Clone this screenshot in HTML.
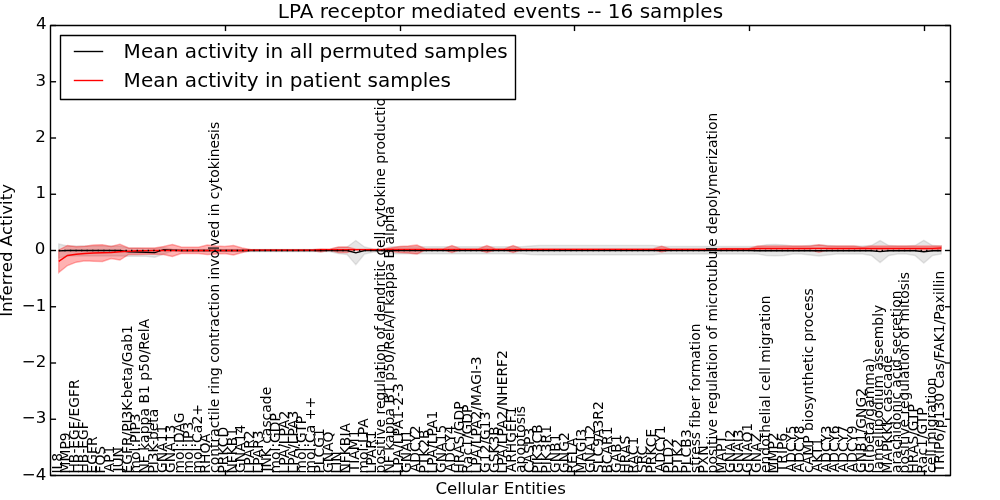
<!DOCTYPE html>
<html><head><meta charset="utf-8"><title>LPA receptor mediated events</title>
<style>html,body{margin:0;padding:0;background:#fff;width:1000px;height:500px;overflow:hidden}
svg{display:block;will-change:transform}
text{font-family:"DejaVu Sans","Liberation Sans",sans-serif}</style></head>
<body>
<svg width="1000" height="500" viewBox="0 0 1000 500">
<rect x="0" y="0" width="1000" height="500" fill="#fff"/>
<polygon points="58.74,244.00 67.48,246.00 76.21,246.00 84.95,246.00 93.69,246.00 102.43,246.00 111.17,246.00 119.90,246.00 128.64,248.00 137.38,248.30 146.12,248.50 154.85,248.50 163.59,247.50 172.33,249.10 181.07,249.50 189.81,249.50 198.54,249.50 207.28,249.50 216.02,249.50 224.76,249.50 233.50,249.50 242.23,249.50 250.97,249.50 259.71,249.50 268.45,249.50 277.18,249.50 285.92,249.50 294.66,249.50 303.40,249.50 312.14,249.50 320.87,249.50 329.61,249.50 338.35,247.50 347.09,247.00 355.83,240.50 364.56,247.00 373.30,249.00 382.04,249.50 390.78,246.70 399.51,246.70 408.25,246.70 416.99,246.70 425.73,246.70 434.47,246.70 443.20,246.70 451.94,246.70 460.68,246.70 469.42,246.70 478.16,246.70 486.89,246.70 495.63,246.70 504.37,246.70 513.11,246.70 521.84,246.70 530.58,246.00 539.32,245.40 548.06,245.40 556.80,245.40 565.53,245.40 574.27,245.40 583.01,245.40 591.75,245.40 600.49,245.40 609.22,245.40 617.96,245.40 626.70,245.40 635.44,245.40 644.17,245.40 652.91,245.40 661.65,246.50 670.39,246.50 679.13,246.50 687.86,246.50 696.60,246.50 705.34,246.50 714.08,246.50 722.82,246.50 731.55,246.50 740.29,246.50 749.03,246.50 757.77,246.50 766.50,244.80 775.24,244.50 783.98,245.00 792.72,246.00 801.46,246.00 810.19,245.50 818.93,245.00 827.67,245.50 836.41,246.00 845.15,246.00 853.88,246.00 862.62,246.00 871.36,245.50 880.10,240.60 888.83,245.50 897.57,246.00 906.31,246.00 915.05,245.50 923.79,240.30 932.52,245.50 941.26,246.00 941.26,254.00 932.52,255.50 923.79,263.00 915.05,255.50 906.31,254.00 897.57,254.00 888.83,255.50 880.10,262.60 871.36,255.50 862.62,254.00 853.88,254.00 845.15,254.00 836.41,254.00 827.67,255.00 818.93,256.00 810.19,255.00 801.46,254.00 792.72,254.00 783.98,255.50 775.24,255.80 766.50,255.60 757.77,254.00 749.03,254.00 740.29,254.00 731.55,254.00 722.82,254.00 714.08,254.00 705.34,254.00 696.60,254.00 687.86,254.00 679.13,254.00 670.39,254.00 661.65,254.00 652.91,254.80 644.17,254.80 635.44,254.80 626.70,254.80 617.96,254.80 609.22,254.80 600.49,254.80 591.75,254.80 583.01,254.80 574.27,254.80 565.53,254.80 556.80,254.80 548.06,254.80 539.32,254.80 530.58,254.50 521.84,253.80 513.11,253.80 504.37,253.80 495.63,253.80 486.89,253.80 478.16,253.80 469.42,253.80 460.68,253.80 451.94,253.80 443.20,253.80 434.47,253.80 425.73,253.80 416.99,253.80 408.25,253.80 399.51,253.80 390.78,253.80 382.04,251.50 373.30,252.00 364.56,254.00 355.83,264.60 347.09,254.50 338.35,253.50 329.61,251.50 320.87,251.50 312.14,251.50 303.40,251.50 294.66,251.50 285.92,251.50 277.18,251.50 268.45,251.50 259.71,251.50 250.97,251.50 242.23,251.50 233.50,251.50 224.76,251.50 216.02,251.50 207.28,251.50 198.54,251.50 189.81,251.50 181.07,251.50 172.33,251.10 163.59,254.00 154.85,257.20 146.12,256.30 137.38,256.20 128.64,256.20 119.90,256.00 111.17,256.00 102.43,256.00 93.69,256.00 84.95,256.00 76.21,256.00 67.48,256.00 58.74,258.00" fill="#808080" fill-opacity="0.2" stroke="#808080" stroke-opacity="0.2" stroke-width="1.39" stroke-linejoin="miter"/>
<polygon points="58.74,250.00 67.48,245.50 76.21,246.80 84.95,246.20 93.69,245.00 102.43,244.80 111.17,246.50 119.90,244.20 128.64,248.00 137.38,248.00 146.12,248.00 154.85,248.00 163.59,246.50 172.33,244.50 181.07,247.00 189.81,247.20 198.54,247.20 207.28,245.00 216.02,246.00 224.76,246.50 233.50,245.50 242.23,248.00 250.97,249.60 259.71,249.60 268.45,249.60 277.18,249.60 285.92,249.60 294.66,249.60 303.40,249.60 312.14,249.60 320.87,249.00 329.61,249.10 338.35,247.00 347.09,247.00 355.83,249.10 364.56,249.10 373.30,249.10 382.04,249.10 390.78,248.00 399.51,246.50 408.25,246.00 416.99,245.00 425.73,248.90 434.47,248.90 443.20,248.90 451.94,245.50 460.68,248.90 469.42,248.90 478.16,248.90 486.89,245.50 495.63,248.90 504.37,248.90 513.11,245.50 521.84,248.90 530.58,248.90 539.32,248.90 548.06,248.90 556.80,248.90 565.53,248.90 574.27,248.90 583.01,248.90 591.75,248.90 600.49,248.90 609.22,248.90 617.96,248.90 626.70,248.90 635.44,248.90 644.17,248.90 652.91,248.90 661.65,246.30 670.39,248.90 679.13,248.90 687.86,248.90 696.60,248.90 705.34,248.90 714.08,248.90 722.82,248.50 731.55,248.50 740.29,248.50 749.03,248.50 757.77,246.00 766.50,246.00 775.24,246.00 783.98,246.00 792.72,246.00 801.46,246.00 810.19,246.00 818.93,244.80 827.67,246.00 836.41,246.00 845.15,246.00 853.88,246.00 862.62,247.20 871.36,246.00 880.10,246.00 888.83,246.00 897.57,246.00 906.31,246.00 915.05,246.00 923.79,246.00 932.52,246.00 941.26,246.00 941.26,250.00 932.52,250.00 923.79,250.00 915.05,250.00 906.31,250.00 897.57,250.00 888.83,250.00 880.10,250.00 871.36,250.00 862.62,250.00 853.88,250.00 845.15,250.00 836.41,250.00 827.67,250.00 818.93,252.30 810.19,250.00 801.46,250.00 792.72,250.00 783.98,250.00 775.24,250.00 766.50,250.00 757.77,250.00 749.03,249.50 740.29,249.50 731.55,249.50 722.82,249.50 714.08,249.90 705.34,249.90 696.60,249.90 687.86,249.90 679.13,249.90 670.39,249.90 661.65,252.00 652.91,249.90 644.17,249.90 635.44,249.90 626.70,249.90 617.96,249.90 609.22,249.90 600.49,249.90 591.75,249.90 583.01,249.90 574.27,249.90 565.53,249.90 556.80,249.90 548.06,249.90 539.32,249.90 530.58,249.90 521.84,249.90 513.11,252.50 504.37,249.90 495.63,249.90 486.89,252.50 478.16,249.90 469.42,249.90 460.68,249.90 451.94,252.50 443.20,249.90 434.47,249.90 425.73,249.90 416.99,254.00 408.25,253.00 399.51,252.50 390.78,251.50 382.04,250.10 373.30,250.10 364.56,250.10 355.83,250.10 347.09,252.50 338.35,252.50 329.61,250.10 320.87,252.00 312.14,250.60 303.40,250.60 294.66,250.60 285.92,250.60 277.18,250.60 268.45,250.60 259.71,250.60 250.97,250.60 242.23,252.50 233.50,255.00 224.76,253.50 216.02,254.00 207.28,254.50 198.54,253.50 189.81,253.50 181.07,253.50 172.33,256.50 163.59,254.50 154.85,254.30 146.12,254.30 137.38,254.50 128.64,254.50 119.90,260.00 111.17,258.50 102.43,261.50 93.69,261.20 84.95,260.80 76.21,262.20 67.48,265.50 58.74,272.50" fill="#ff0000" fill-opacity="0.3" stroke="#ff0000" stroke-opacity="0.3" stroke-width="1.39"/>
<polyline points="58.74,250.90 67.48,250.50 76.21,250.50 84.95,250.50 93.69,250.50 102.43,250.50 111.17,250.50 119.90,250.50 128.64,251.80 137.38,252.00 146.12,252.20 154.85,252.60 163.59,249.60 172.33,250.10 181.07,250.50 189.81,250.50 198.54,250.50 207.28,250.50 216.02,250.50 224.76,250.50 233.50,250.50 242.23,250.50 250.97,250.50 259.71,250.50 268.45,250.50 277.18,250.50 285.92,250.50 294.66,250.50 303.40,250.50 312.14,250.50 320.87,250.50 329.61,250.50 338.35,250.50 347.09,250.50 355.83,252.90 364.56,250.50 373.30,250.50 382.04,250.50 390.78,250.50 399.51,250.50 408.25,250.50 416.99,250.50 425.73,250.50 434.47,250.50 443.20,250.50 451.94,250.50 460.68,250.50 469.42,250.50 478.16,250.50 486.89,250.50 495.63,250.50 504.37,250.50 513.11,250.50 521.84,250.50 530.58,250.50 539.32,250.50 548.06,250.50 556.80,250.50 565.53,250.50 574.27,250.50 583.01,250.50 591.75,250.50 600.49,250.50 609.22,250.50 617.96,250.50 626.70,250.50 635.44,250.50 644.17,250.50 652.91,250.50 661.65,250.50 670.39,250.50 679.13,250.50 687.86,250.50 696.60,250.50 705.34,250.50 714.08,250.50 722.82,250.50 731.55,250.50 740.29,250.50 749.03,250.50 757.77,250.70 766.50,250.70 775.24,250.70 783.98,250.70 792.72,250.70 801.46,250.70 810.19,250.70 818.93,250.70 827.67,250.70 836.41,250.70 845.15,250.70 853.88,250.70 862.62,250.70 871.36,250.70 880.10,251.60 888.83,250.70 897.57,250.70 906.31,250.70 915.05,250.70 923.79,251.80 932.52,250.70 941.26,250.70" fill="none" stroke="#000" stroke-width="1.39"/>
<polyline points="58.74,261.30 67.48,255.50 76.21,254.30 84.95,253.50 93.69,253.00 102.43,252.80 111.17,252.50 119.90,251.80 128.64,251.20 137.38,250.80 146.12,250.60 154.85,250.50 163.59,250.50 172.33,250.50 181.07,250.50 189.81,250.50 198.54,250.50 207.28,250.50 216.02,250.50 224.76,250.50 233.50,250.50 242.23,250.50 250.97,250.10 259.71,250.10 268.45,250.10 277.18,250.10 285.92,250.10 294.66,250.10 303.40,250.10 312.14,250.10 320.87,249.60 329.61,249.60 338.35,249.60 347.09,249.60 355.83,249.60 364.56,249.60 373.30,249.60 382.04,249.60 390.78,249.40 399.51,249.40 408.25,249.40 416.99,249.40 425.73,249.40 434.47,249.40 443.20,249.40 451.94,249.40 460.68,249.40 469.42,249.40 478.16,249.40 486.89,249.40 495.63,249.40 504.37,249.40 513.11,249.40 521.84,249.40 530.58,249.40 539.32,249.40 548.06,249.40 556.80,249.40 565.53,249.40 574.27,249.40 583.01,249.40 591.75,249.40 600.49,249.40 609.22,249.40 617.96,249.40 626.70,249.40 635.44,249.40 644.17,249.40 652.91,249.40 661.65,249.40 670.39,249.40 679.13,249.40 687.86,249.40 696.60,249.40 705.34,249.40 714.08,249.40 722.82,249.00 731.55,249.00 740.29,249.00 749.03,249.00 757.77,248.40 766.50,248.40 775.24,248.40 783.98,248.40 792.72,248.40 801.46,248.40 810.19,248.40 818.93,248.40 827.67,248.40 836.41,248.40 845.15,248.40 853.88,248.40 862.62,248.40 871.36,248.40 880.10,248.40 888.83,248.40 897.57,248.40 906.31,248.40 915.05,248.40 923.79,248.40 932.52,248.40 941.26,248.00" fill="none" stroke="#f00" stroke-width="1.39"/>
<line x1="58.74" y1="250.5" x2="941.26" y2="250.5" stroke="#000" stroke-width="1.39" stroke-dasharray="1.39 4.17"/>
<g font-family="DejaVu Sans" font-size="13.889" fill="#000">
<text transform="translate(61.74,473.57) rotate(-90)" x="0 4 11.75">IL8</text>
<text transform="translate(70.48,473.57) rotate(-90)" x="0 12 24 32.375">MMP9</text>
<text transform="translate(79.21,473.57) rotate(-90)" x="0 10.375 20 24.875 33.625 44.375 52.375 57 65.75 76.5 84.5">HB-EGF/EGFR</text>
<text transform="translate(87.95,473.57) rotate(-90)" x="0 10.375 20 24.875 33.625 44.375">HB-EGF</text>
<text transform="translate(96.69,473.57) rotate(-90)" x="0 8.75 19.5 27.5">EGFR</text>
<text transform="translate(105.43,473.57) rotate(-90)" x="0 8 18.875">FOS</text>
<text transform="translate(114.17,472.31) rotate(-90)" x="0 9.5 17.875">AP1</text>
<text transform="translate(122.90,471.51) rotate(-90)" x="0 4 14.125">JUN</text>
<text transform="translate(131.64,473.57) rotate(-90)" x="0 8.75 19.5 27.5 37.125 41.75 50.125 54.125 62.875 70.375 75.25 84.125 92.625 98.125 106.75 111.375 122.125 130.75 139.625">EGFR/PI3K-beta/Gab1</text>
<text transform="translate(140.38,473.45) rotate(-90)" x="0 13.5 22 25.875 30.5 38.875 42.875 51.25">mol:PIP3</text>
<text transform="translate(149.12,473.57) rotate(-90)" x="0 10.375 18.375 22.75 30.625 39.25 48.125 57 65.625 70 79.625 88.5 92.875 101.75 110.5 119.25 123.875 132.875 141.375 145.25">NF kappa B1 p50/RelA</text>
<text transform="translate(157.85,473.57) rotate(-90)" x="0 8.375 12.375 21.125 28.625 33.5 42.375 50.875 56.375">PI3K-beta</text>
<text transform="translate(166.59,472.95) rotate(-90)" x="0 10.75 21.125 30.625 39.5">GNA11</text>
<text transform="translate(175.33,472.95) rotate(-90)" x="0 10.75 21.125 30.625 39.5">GNA13</text>
<text transform="translate(184.07,473.45) rotate(-90)" x="0 13.5 22 25.875 30.5 41 50.25">mol:DAG</text>
<text transform="translate(192.81,473.45) rotate(-90)" x="0 13.5 22 25.875 30.5 34.5 42.875">mol:IP3</text>
<text transform="translate(201.54,473.45) rotate(-90)" x="0 13.5 22 25.875 30.5 40.25 48.875 57.625">mol:Ca2+</text>
<text transform="translate(210.28,473.57) rotate(-90)" x="0 9.625 20 30.625">RHOA</text>
<text transform="translate(219.02,472.95) rotate(-90)" x="0 7.625 16.125 24.875 30.375 36.125 44.75 52.375 57.875 61.75 65.625 74.125 78.5 84.25 88.125 96.875 105.75 110.125 117.75 126.25 135 140.5 146.25 154.875 162.5 168 171.875 180.375 189.125 193.5 197.375 206.125 214.375 222.875 226.75 235 243.5 252.375 256.75 260.625 269.375 273.75 281.375 289.625 295.125 303.625 311.75 315.625 324.375 332.875 340 343.875">contractile ring contraction involved in cytokinesis</text>
<text transform="translate(227.76,473.57) rotate(-90)" x="0 8.375 18 26.25 36">PRKCD</text>
<text transform="translate(236.50,473.57) rotate(-90)" x="0 10.375 18.375 27.375 37">NFKB1</text>
<text transform="translate(245.23,472.95) rotate(-90)" x="0 10.75 21.125 30.625 39.5">GNA14</text>
<text transform="translate(253.97,473.57) rotate(-90)" x="0 7.75 15.25 24.75 34.375">LPAR2</text>
<text transform="translate(262.71,473.57) rotate(-90)" x="0 7.75 15.25 24.75 34.375">LPAR3</text>
<text transform="translate(271.45,471.51) rotate(-90)" x="0 4 14.375 23.375 27.75 35.375 44 51.125 58.75 67.375 76.25">JNK cascade</text>
<text transform="translate(280.18,473.45) rotate(-90)" x="0 13.5 22 25.875 30.5 41.25 52">mol:GDP</text>
<text transform="translate(288.92,473.57) rotate(-90)" x="0 7.75 15.25 24.75 29.375 37.125 44.625 54.125">LPA/LPA2</text>
<text transform="translate(297.66,473.57) rotate(-90)" x="0 7.75 15.25 24.75 29.375 37.125 44.625 54.125">LPA/LPA3</text>
<text transform="translate(306.40,473.45) rotate(-90)" x="0 13.5 22 25.875 30.5 40.75 49.25">mol:GTP</text>
<text transform="translate(315.14,473.45) rotate(-90)" x="0 13.5 22 25.875 30.5 40.25 48.875 53.25 64.875">mol:Ca ++</text>
<text transform="translate(323.87,473.57) rotate(-90)" x="0 8.375 16.125 25.875 36.625">PLCG1</text>
<text transform="translate(332.61,472.95) rotate(-90)" x="0 10.75 21.125 30.375">GNAQ</text>
<text transform="translate(341.35,473.57) rotate(-90)" x="0 7.75 11.75">LIN</text>
<text transform="translate(350.09,473.57) rotate(-90)" x="0 10.375 18.375 27.375 37 41">NFKBIA</text>
<text transform="translate(358.83,472.20) rotate(-90)" x="0 8.5 12.5 22 34">TIAM1</text>
<text transform="translate(367.56,473.45) rotate(-90)" x="0 13.5 22 25.875 30.5 38.25 45.75">mol:LPA</text>
<text transform="translate(376.30,473.57) rotate(-90)" x="0 7.75 15.25 24.75 34.375">LPAR1</text>
<text transform="translate(385.04,473.45) rotate(-90)" x="0 8.875 17.375 24.5 28.375 33.875 37.75 46 54.5 58.875 64.375 72.875 81.75 90.5 94.375 103 108.5 112.375 120.875 129.625 134 142.5 147.5 151.875 160.75 169.25 178 186.875 192.625 196.5 202 205.875 213.5 217.875 225.5 234 237.875 241.75 246.125 253.75 262 267.5 276 284.125 288 296.75 305.25 309.625 318.5 324 332.5 341.375 350.125 357.75 363.25 367.125 375.625">positive regulation of dendritic cell cytokine production</text>
<text transform="translate(393.78,473.57) rotate(-90)" x="0 10.375 18.375 22.75 30.625 39.25 48.125 57 65.625 70 79.625 88.5 92.875 101.75 110.5 119.25 123.875 132.875 141.375 145.25 154.75 159.375 163.375 167.75 175.625 184.25 193.125 202 210.625 215 224.625 229 237.625 241.5 250.375 259.125">NF kappa B1 p50/RelA/I kappa B alpha</text>
<text transform="translate(402.51,473.57) rotate(-90)" x="0 7.75 15.25 24.75 29.375 37.125 44.625 54.125 63 67.875 76.625 81.5">LPA/LPA1-2-3</text>
<text transform="translate(411.25,472.95) rotate(-90)" x="0 10.75 21.125 30.625 34.625">GNAI1</text>
<text transform="translate(419.99,472.31) rotate(-90)" x="0 9.5 20.25 29.75 38.125">ADCY2</text>
<text transform="translate(428.73,473.57) rotate(-90)" x="0 8.375 16.875 25.875 34.625">PTK2B</text>
<text transform="translate(437.47,473.57) rotate(-90)" x="0 7.75 15.25 24.75 29.375 37.125 44.625 54.125">LPA/LPA1</text>
<text transform="translate(446.20,472.95) rotate(-90)" x="0 10.75 21.125 30.625 39.5">GNA15</text>
<text transform="translate(454.94,472.31) rotate(-90)" x="0 9.5 20.25 29.75 38.125">ADCY4</text>
<text transform="translate(463.68,473.57) rotate(-90)" x="0 10.375 19.5 29 37.75 42.375 53.125 63.875">HRAS/GDP</text>
<text transform="translate(472.42,473.57) rotate(-90)" x="0 9.375 18 25.625 34.5 39.125 49.875 60.625">Rac1/GDP</text>
<text transform="translate(481.16,473.57) rotate(-90)" x="0 7.75 15.25 24.75 29.375 37.125 44.625 54.125 62.875 67.5 79.5 88.75 99.5 103.5 108.375">LPA/LPA2/MAGI-3</text>
<text transform="translate(489.89,472.95) rotate(-90)" x="0 10.75 19.625 28.375 33 43.75 52.625">G12/G13</text>
<text transform="translate(498.63,472.95) rotate(-90)" x="0 10.75 19.5 28.5 37.25">GSK3B</text>
<text transform="translate(507.37,473.57) rotate(-90)" x="0 7.75 15.25 24.75 29.375 37.125 44.625 54.125 62.875 67.5 77.875 88.25 97 106.625 114.625">LPA/LPA2/NHERF2</text>
<text transform="translate(516.11,472.31) rotate(-90)" x="0 9.5 19.125 29.5 40.25 49 57">ARHGEF1</text>
<text transform="translate(524.84,473.07) rotate(-90)" x="0 8.625 17.5 26 34.875 40.375 48.875 56 59.875">apoptosis</text>
<text transform="translate(533.58,472.95) rotate(-90)" x="0 9.75 19.25 28 36.375">CASP3</text>
<text transform="translate(542.32,473.57) rotate(-90)" x="0 8.375 12.375 21.375 30.125 39.875">PIK3CB</text>
<text transform="translate(551.06,473.57) rotate(-90)" x="0 8.375 12.375 21.375 30.125 39.75">PIK3R1</text>
<text transform="translate(559.80,472.95) rotate(-90)" x="0 10.75 21.125 30.75">GNB1</text>
<text transform="translate(568.53,472.95) rotate(-90)" x="0 10.75 21.125 31.875">GNG2</text>
<text transform="translate(577.27,473.57) rotate(-90)" x="0 9.625 18.375 26.5">RELA</text>
<text transform="translate(586.01,473.57) rotate(-90)" x="0 12 21.25 32 36">MAGI3</text>
<text transform="translate(594.75,472.95) rotate(-90)" x="0 10.75 21.125 30.625 39.5">GNA12</text>
<text transform="translate(603.49,473.07) rotate(-90)" x="0 8.75 16.5 26.25 35.125 44.625 53.375 63">SLC9A3R2</text>
<text transform="translate(612.22,473.57) rotate(-90)" x="0 9.375 19.125 28.625 38.25">BCAR1</text>
<text transform="translate(620.96,472.95) rotate(-90)" x="0 10.75 20.25 29.875">GAB1</text>
<text transform="translate(629.70,473.57) rotate(-90)" x="0 10.375 19.5 29">HRAS</text>
<text transform="translate(638.44,473.57) rotate(-90)" x="0 9.125 18.375 28.125">RAC1</text>
<text transform="translate(647.17,473.07) rotate(-90)" x="0 8.75 17.625">SRC</text>
<text transform="translate(655.91,473.57) rotate(-90)" x="0 8.375 18 26.25 36">PRKCE</text>
<text transform="translate(664.65,472.31) rotate(-90)" x="0 9.5 20.25 29.75 38.125">ADCY1</text>
<text transform="translate(673.39,473.57) rotate(-90)" x="0 8.375 16.125 26.875">PLD2</text>
<text transform="translate(682.13,473.57) rotate(-90)" x="0 8.375 16.875 25.875">PTK2</text>
<text transform="translate(690.86,473.57) rotate(-90)" x="0 8.375 16.125 25.875 35.5">PLCB3</text>
<text transform="translate(699.60,472.90) rotate(-90)" x="0 7.125 12.625 18.125 26.625 33.75 40.875 45.25 50.25 54.125 63 71.5 77.25 81.625 86.625 95.125 100.625 114.125 122.75 128.25 132.125 140.625">stress fiber formation</text>
<text transform="translate(708.34,473.57) rotate(-90)" x="0 8.375 17.875">PXN</text>
<text transform="translate(717.08,473.45) rotate(-90)" x="0 8.875 17.375 24.5 28.375 33.875 37.75 46 54.5 58.875 64.375 72.875 81.75 90.5 94.375 103 108.5 112.375 120.875 129.625 134 142.5 147.5 151.875 165.375 169.25 176.875 182.375 190.875 196.375 205.125 214 222.75 226.625 235.125 239.5 248.375 256.875 265.75 274.25 278.125 286.375 299.875 308.375 314.125 318 325.375 334 339.5 343.375 351.875">positive regulation of microtubule depolymerization</text>
<text transform="translate(725.82,473.57) rotate(-90)" x="0 12 21.5 29.875">MAPT</text>
<text transform="translate(734.55,472.95) rotate(-90)" x="0 10.75 21.125 30.625 34.625">GNAI2</text>
<text transform="translate(743.29,472.95) rotate(-90)" x="0 10.75 21.125 30.625 34.625">GNAI3</text>
<text transform="translate(752.03,472.95) rotate(-90)" x="0 10.75 21.125 30.375 41.25">GNAO1</text>
<text transform="translate(760.77,472.95) rotate(-90)" x="0 10.75 21.125 30.625">GNAZ</text>
<text transform="translate(769.50,472.95) rotate(-90)" x="0 8.5 17.25 26.125 34.625 40.125 48.875 57.375 61.25 65.125 73.75 77.625 82 89.625 98.125 102 105.875 110.25 123.75 127.625 136.5 142.25 150.875 156.375 160.25 168.75">endothelial cell migration</text>
<text transform="translate(778.24,473.57) rotate(-90)" x="0 12 24 32.375">MMP2</text>
<text transform="translate(786.98,472.20) rotate(-90)" x="0 8.5 18.125 22.125 30.5">TRIP6</text>
<text transform="translate(795.72,472.31) rotate(-90)" x="0 9.5 20.25 29.75 38.125">ADCY5</text>
<text transform="translate(804.46,472.31) rotate(-90)" x="0 9.5 20.25 29.75 38.125">ADCY8</text>
<text transform="translate(813.19,472.95) rotate(-90)" x="0 7.625 17.125 29.125 37.5 41.875 50.75 54.625 63.125 70.25 78.5 87.25 92.75 101.5 110 115.5 119.375 127 131.375 140.25 145.75 154.25 161.875 170.375 177.5">cAMP biosynthetic process</text>
<text transform="translate(821.93,472.31) rotate(-90)" x="0 9.5 17.375 25.875">AKT1</text>
<text transform="translate(830.67,472.31) rotate(-90)" x="0 9.5 20.25 29.75 38.125">ADCY3</text>
<text transform="translate(839.41,472.31) rotate(-90)" x="0 9.5 20.25 29.75 38.125">ADCY6</text>
<text transform="translate(848.15,472.31) rotate(-90)" x="0 9.5 20.25 29.75 38.125">ADCY7</text>
<text transform="translate(856.88,472.31) rotate(-90)" x="0 9.5 20.25 29.75 38.125">ADCY9</text>
<text transform="translate(865.62,472.95) rotate(-90)" x="0 10.75 21.125 30.75 39.625 44.25 55 65.375 76.125">GNB1/GNG2</text>
<text transform="translate(874.36,472.95) rotate(-90)" x="0 10.75 14.625 20.125 29 37.5 43 51.625 56.25 65.125 73.75 87.25 100.75 109.375">Gi(beta/gamma)</text>
<text transform="translate(883.10,473.45) rotate(-90)" x="0 3.875 12.5 26 34.5 38.375 42.25 46.125 55 63.5 72.375 76.25 85 98.5 102.875 111.5 118.625 125.75 134.25 147.75 156.625 160.5">lamellipodium assembly</text>
<text transform="translate(891.83,473.57) rotate(-90)" x="0 12 21.5 29.875 38.875 47.875 56.875 61.25 68.875 77.5 84.625 92.25 100.875 109.75">MAPKKK cascade</text>
<text transform="translate(900.57,473.07) rotate(-90)" x="0 8.625 14.375 23 30.625 39.375 43.25 52.125 60.625 69.375 73.25 80.875 85.25 93.875 101.5 105.375 114.25 118.625 125.75 134.25 141.875 147.375 155.875 161.375 165.25 173.75">arachidonic acid secretion</text>
<text transform="translate(909.31,473.45) rotate(-90)" x="0 8.875 17.375 24.5 28.375 33.875 37.75 46 54.5 58.875 64.375 72.875 81.75 90.5 94.375 103 108.5 112.375 120.875 129.625 134 142.5 147.5 151.875 165.375 169.25 174.75 183.25 190.375 194.25">positive regulation of mitosis</text>
<text transform="translate(918.05,473.57) rotate(-90)" x="0 10.375 19.5 29 37.75 42.375 52.625 61.125">HRAS/GTP</text>
<text transform="translate(926.79,473.57) rotate(-90)" x="0 9.375 18 25.625 34.5 39.125 49.375 57.875">Rac1/GTP</text>
<text transform="translate(935.52,472.95) rotate(-90)" x="0 7.625 16.125 20 23.875 28.25 41.75 45.625 54.5 60.25 68.875 74.375 78.25 86.75">cell migration</text>
<text transform="translate(944.26,472.20) rotate(-90)" x="0 8.5 18.125 22.125 30.5 39.375 44 52.875 61.75 70.5 79.25 83.625 93.375 102 109.125 113.75 120.5 130 139 147.875 152.5 160.25 168.875 177.125 181 184.875 188.75 192.625">TRIP6/p130 Cas/FAK1/Paxillin</text>
</g>
<g stroke="#000" stroke-width="1.39" fill="none" stroke-linejoin="round">
<rect x="50.5" y="25.5" width="900" height="450"/>
<line x1="50.5" y1="475.5" x2="56.06" y2="475.5"/>
<line x1="950.5" y1="475.5" x2="944.94" y2="475.5"/>
<line x1="50.5" y1="419.25" x2="56.06" y2="419.25"/>
<line x1="950.5" y1="419.25" x2="944.94" y2="419.25"/>
<line x1="50.5" y1="363.0" x2="56.06" y2="363.0"/>
<line x1="950.5" y1="363.0" x2="944.94" y2="363.0"/>
<line x1="50.5" y1="306.75" x2="56.06" y2="306.75"/>
<line x1="950.5" y1="306.75" x2="944.94" y2="306.75"/>
<line x1="50.5" y1="250.5" x2="56.06" y2="250.5"/>
<line x1="950.5" y1="250.5" x2="944.94" y2="250.5"/>
<line x1="50.5" y1="194.25" x2="56.06" y2="194.25"/>
<line x1="950.5" y1="194.25" x2="944.94" y2="194.25"/>
<line x1="50.5" y1="138.0" x2="56.06" y2="138.0"/>
<line x1="950.5" y1="138.0" x2="944.94" y2="138.0"/>
<line x1="50.5" y1="81.75" x2="56.06" y2="81.75"/>
<line x1="950.5" y1="81.75" x2="944.94" y2="81.75"/>
<line x1="50.5" y1="25.5" x2="56.06" y2="25.5"/>
<line x1="950.5" y1="25.5" x2="944.94" y2="25.5"/>
<line x1="225.5" y1="25.5" x2="225.5" y2="31.06"/>
<line x1="225.5" y1="475.5" x2="225.5" y2="469.94"/>
<line x1="400.5" y1="25.5" x2="400.5" y2="31.06"/>
<line x1="400.5" y1="475.5" x2="400.5" y2="469.94"/>
<line x1="574.5" y1="25.5" x2="574.5" y2="31.06"/>
<line x1="574.5" y1="475.5" x2="574.5" y2="469.94"/>
<line x1="749.5" y1="25.5" x2="749.5" y2="31.06"/>
<line x1="749.5" y1="475.5" x2="749.5" y2="469.94"/>
<line x1="924.5" y1="25.5" x2="924.5" y2="31.06"/>
<line x1="924.5" y1="475.5" x2="924.5" y2="469.94"/>
</g>
<rect x="60.5" y="35.5" width="455" height="64" fill="#fff" stroke="#000" stroke-width="1.39" stroke-linejoin="round"/>
<line x1="73.8" y1="51.5" x2="103.2" y2="51.5" stroke="#000" stroke-width="1.39"/>
<line x1="73.8" y1="80.5" x2="103.2" y2="80.5" stroke="#f00" stroke-width="1.39"/>
<g font-family="DejaVu Sans" fill="#000">
<text x="21.750 35.625" y="480.00" font-size="16.667">−4</text>
<text x="21.750 35.625" y="423.00" font-size="16.667">−3</text>
<text x="21.750 35.625" y="367.00" font-size="16.667">−2</text>
<text x="21.750 35.625" y="311.00" font-size="16.667">−1</text>
<text x="34.675" y="254.00" font-size="16.667">0</text>
<text x="35.525" y="198.00" font-size="16.667">1</text>
<text x="35.350" y="142.00" font-size="16.667">2</text>
<text x="35.487" y="86.00" font-size="16.667">3</text>
<text x="36.000" y="29.00" font-size="16.667">4</text>
<text x="277.850 288.975 299.725 313.350 319.725 327.600 339.975 350.975 363.350 376.100 383.975 396.225 404.600 410.975 430.600 442.975 455.725 461.225 473.600 481.475 493.850 506.600 512.975 525.350 537.225 549.600 562.350 570.225 580.600 586.975 594.225 601.475 607.850 620.600 633.350 639.725 650.100 662.475 682.100 694.850 700.350 712.725" y="18.00" font-size="20.000">LPA receptor mediated events -- 16 samples</text>
<text x="435.450 446.950 457.200 461.825 466.450 476.950 481.575 491.700 498.575 503.825 514.200 524.700 531.200 535.825 542.325 546.950 557.200" y="493.50" font-size="16.667">Cellular Entities</text>
<text x="123.500 140.875 153.250 165.625 178.375 184.750 197.125 208.125 216.000 221.500 233.375 238.875 246.750 258.625 265.000 270.500 283.250 289.625 302.000 307.500 313.000 319.375 332.125 344.500 352.500 372.125 384.875 392.750 405.125 417.875 424.250 434.625 447.000 466.625 479.375 484.875 497.250" y="58.00" font-size="20.000">Mean activity in all permuted samples</text>
<text x="123.500 140.875 153.250 165.625 178.375 184.750 197.125 208.125 216.000 221.500 233.375 238.875 246.750 258.625 265.000 270.500 283.250 289.625 302.375 314.750 322.625 328.125 340.500 353.250 361.125 367.500 377.875 390.250 409.875 422.625 428.125 440.500" y="87.00" font-size="20.000">Mean activity in patient samples</text>
</g>
<text transform="translate(12.0,316.82) rotate(-90)" x="0.000 4.875 15.375 21.250 31.500 38.125 44.625 54.875 65.375 70.625 81.750 90.875 97.375 102.000 111.875 116.500 123.000" font-family="DejaVu Sans" font-size="16.667">Inferred Activity</text>
</svg>
</body></html>
